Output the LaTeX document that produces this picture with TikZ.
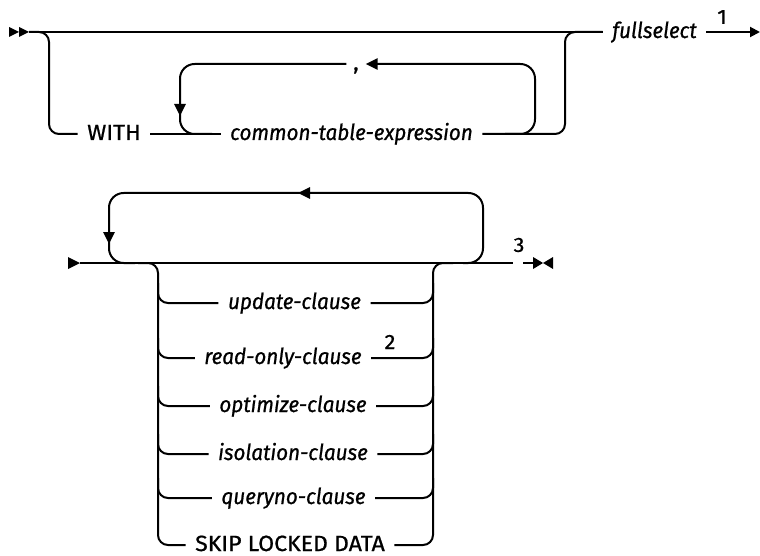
\documentclass[tikz,border=0pt]{standalone}
\usepackage{fontspec}
\setmainfont{Fira Sans}
\newfontfamily\dfont{Fira Sans}[FakeBold=0.8, UprightFeatures={FakeStretch=1.05}, ItalicFeatures={FakeStretch=0.94}]
\usetikzlibrary{arrows.meta}
\begin{document}
\begin{tikzpicture}[x=0.75pt,y=-0.75pt,
  rr/.style={line width=1.5pt},
  rs/.style={rounded corners=7.5pt},
  rl/.style={rounded corners=11pt},
  lbl/.style={font=\dfont\fontsize{16.5}{18}\selectfont\itshape, inner xsep=7pt, inner ysep=0pt, text height=12pt, text depth=3pt},
  kw/.style={font=\dfont\fontsize{16.5}{18}\selectfont, inner xsep=7pt, inner ysep=0pt, text height=12pt, text depth=3pt},
  cma/.style={font=\dfont\fontsize{16.5}{18}\selectfont, inner xsep=5pt, inner ysep=0pt, text height=12pt, text depth=3pt},
  fn/.style={font=\dfont\fontsize{15.5}{16}\selectfont, inner sep=0pt},
  tip/.style={-{Triangle[length=7.5pt,width=7.5pt]}},
  ltip/.style={-{Triangle[length=9pt,width=8.5pt]}}
]
\useasboundingbox (0,0) rectangle (760,556);

% ---------- top diagram ----------
\coordinate (s1) at (29,32);
\coordinate (e1) at (760,32);
\node[kw]  (with) at (114,134) {WITH};
\node[lbl] (cte)  at (351.5,134) {common-table-expression};
\node[lbl] (fs)   at (654.5,32) {fullselect};
\node[fn]  (n1)   at (722,17) {1};
\node[cma] (cm)   at (356,64) {,};

\fill (9,27) -- (19,32) -- (9,37) -- cycle;
\fill (19,27) -- (29,32) -- (19,37) -- cycle;

\draw[rr] (s1) -- (fs.west);
\draw[rr,tip] (fs.east) -- (e1);
\draw[rr,rs] (s1) -| (49,134) -- (with.west);
\draw[rr] (with.east) -- (cte.west);
\draw[rr,rs] (cte.east) -| (565,32) -- (fs.west);

\coordinate (lpR) at (505,134);
\coordinate (lpL) at (212,134);
\coordinate (lpD) at (180,116);
\coordinate (lpU) at (180,104);
\draw[rr,rl,ltip] (lpR) -| (535,64) -- (cm.east);
\draw[rr,rl,ltip] (cm.west) -| (lpD);
\draw[rr,rl] (lpU) |- (lpL);

% ---------- bottom diagram ----------
\coordinate (s2) at (80,263);
\coordinate (e2a) at (513,263);
\coordinate (e2b) at (523,263);
\coordinate (e2c) at (533,263);
\fill (68,257) -- (80,263) -- (68,269) -- cycle;
\draw[rr] (s2) -- (e2a);
\draw[rr] (e2b) -- (e2c);
\fill (533,257) -- (543,263) -- (533,269) -- cycle;
\fill (553,257) -- (543,263) -- (553,269) -- cycle;
\node[fn] (n3) at (519,245) {3};

% repeat loop
\coordinate (l2R) at (463,263);
\coordinate (l2A) at (298,193);
\coordinate (l2B) at (310,193);
\coordinate (l2D) at (109,244);
\coordinate (l2U) at (109,232);
\coordinate (l2L) at (135,263);
\draw[rr,rl,ltip] (l2R) -| (483,193) -- (l2A);
\draw[rr,rl,ltip] (l2B) -| (l2D);
\draw[rr,rl] (l2U) |- (l2L);

% choices
\node[lbl] (upd)  at (294.5,303) {update-clause};
\node[lbl] (ro)   at (283,358)   {read-only-clause};
\node[lbl] (opt)  at (293,406)   {optimize-clause};
\node[lbl] (iso)  at (293,454)   {isolation-clause};
\node[lbl] (qry)  at (293.5,498) {queryno-clause};
\node[kw]  (skip) at (290,545)   {SKIP LOCKED DATA};
\node[fn]  (n2)   at (390,342)   {2};

\coordinate (rl0) at (138,263);
\coordinate (rr0) at (453,263);
\draw[rr,rs] (rl0) -| (158,545) -- (skip.west);
\draw[rr,rs] (skip.east) -| (433,263) -- (rr0);
\foreach \n/\y in {upd/303, ro/358, opt/406, iso/454, qry/498} {
  \draw[rr,rs] (158,\y-20) |- (\n.west);
  \draw[rr,rs] (\n.east) -| (433,\y-20);
}
\end{tikzpicture}
\end{document}
